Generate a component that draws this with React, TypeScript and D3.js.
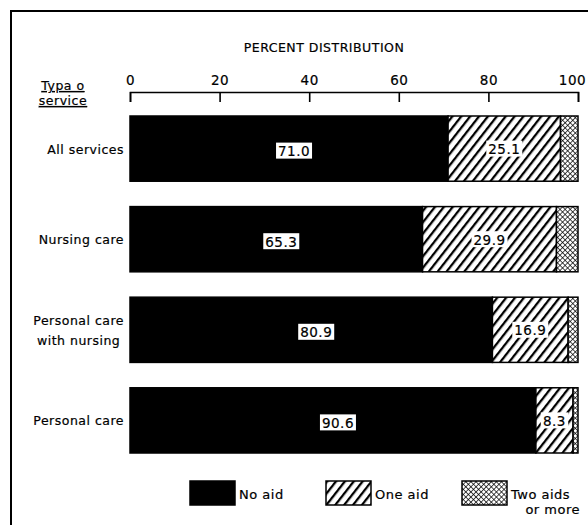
import * as d3 from 'd3';
import React, { useEffect, useRef } from 'react';

// service types, top to bottom
const services = ['All services', 'Nursing care', 'Personal care\nwith nursing', 'Personal care'];
const noAid = [71.0, 65.3, 80.9, 90.6];
const oneAid = [25.1, 29.9, 16.9, 8.3];
const twoAids = [3.9, 4.8, 2.2, 1.1];
const tickValues = [0, 20, 40, 60, 80, 100];
const legendLabels = ['No aid', 'One aid', 'Two aids\nor more'];

const font = '"DejaVu Sans", sans-serif';

// slightly heavier, wider text like the printed original
const ink = (sel: any, size: number) => sel
  .style('font-family', font)
  .style('font-size', `${size}px`)
  .style('letter-spacing', '0.5px')
  .attr('stroke', '#000')
  .attr('stroke-width', 0.2)
  .attr('fill', '#000');

const App = () => {
  const ref = useRef<SVGSVGElement>(null);

  useEffect(() => {
    const svg = d3.select(ref.current);
    svg.selectAll('*').remove();

    const defs = svg.append('defs');
    // single diagonal hatch for "one aid"
    const hatch = defs.append('pattern')
      .attr('id', 'hatch')
      .attr('patternUnits', 'userSpaceOnUse')
      .attr('width', 7).attr('height', 7)
      .attr('patternTransform', 'rotate(38)');
    hatch.append('rect').attr('width', 7).attr('height', 7).attr('fill', '#fff');
    hatch.append('line')
      .attr('x1', 0).attr('y1', 0).attr('x2', 0).attr('y2', 7)
      .attr('stroke', '#000').attr('stroke-width', 4.6);
    // cross hatch for "two aids or more"
    const cross = defs.append('pattern')
      .attr('id', 'cross')
      .attr('patternUnits', 'userSpaceOnUse')
      .attr('width', 3.6).attr('height', 3.6)
      .attr('patternTransform', 'rotate(45)');
    cross.append('rect').attr('width', 3.6).attr('height', 3.6).attr('fill', '#fff');
    cross.append('line').attr('x1', 0).attr('y1', 0).attr('x2', 0).attr('y2', 3.6)
      .attr('stroke', '#000').attr('stroke-width', 1.4);
    cross.append('line').attr('x1', 0).attr('y1', 0).attr('x2', 3.6).attr('y2', 0)
      .attr('stroke', '#000').attr('stroke-width', 1.4);

    // frame
    svg.append('path')
      .attr('d', 'M11,530 V11 H600')
      .attr('fill', 'none').attr('stroke', '#000').attr('stroke-width', 2);

    const x = d3.scaleLinear().domain([0, 100]).range([130, 578]);
    const y = d3.scaleBand<string>().domain(services).range([116, 453]).paddingInner(0.28).paddingOuter(0);

    ink(svg.append('text')
      .attr('x', 324).attr('y', 52)
      .attr('text-anchor', 'middle'), 12.5)
      .text('PERCENT DISTRIBUTION');

    const axis = svg.append('g')
      .attr('transform', 'translate(0,92)')
      .call(d3.axisTop(x).tickValues(tickValues).tickSize(-10).tickPadding(7));
    axis.select('.domain').attr('stroke-width', 1.6);
    axis.selectAll('.tick line').attr('stroke-width', 1.6);
    ink(axis.selectAll('.tick text'), 13.5);
    axis.selectAll('.tick text').filter((d: any) => d === 100).attr('dx', -6);

    // header "Typa o / service" (underlined)
    [['Typa o', 90], ['service', 105]].forEach(([t, yy]) => {
      ink(svg.append('text')
        .attr('x', 63).attr('y', yy as number)
        .attr('text-anchor', 'middle')
        .attr('text-decoration', 'underline'), 12.5)
        .text(t as string);
    });

    // category labels
    services.forEach(s => {
      const lines = s.split('\n');
      const cy = (y(s) ?? 0) + y.bandwidth() / 2;
      let firstW = 0;
      lines.forEach((l, i) => {
        const t = ink(svg.append('text')
          .attr('y', cy + (i - (lines.length - 1) / 2) * 20 + 5), 12.5)
          .text(l);
        if (i === 0) {
          t.attr('x', 124).attr('text-anchor', 'end');
          firstW = (t.node() as SVGTextElement).getComputedTextLength();
        } else {
          t.attr('x', 124 - firstW / 2).attr('text-anchor', 'middle');
        }
      });
    });

    // stacked segments
    const rows = services.map((s, i) => ({ s, vals: [noAid[i], oneAid[i], twoAids[i]] }));
    const fills = ['#000', 'url(#hatch)', 'url(#cross)'];
    rows.forEach(r => {
      let acc = 0;
      const g = svg.append('g');
      r.vals.forEach((v, j) => {
        g.append('rect')
          .attr('x', x(acc))
          .attr('y', y(r.s) ?? 0)
          .attr('width', x(acc + v) - x(acc))
          .attr('height', y.bandwidth())
          .attr('fill', fills[j])
          .attr('stroke', '#000').attr('stroke-width', 1.5);
        if (j < 2) {
          const cx = (x(acc) + x(acc + v)) / 2 + (j === 0 ? 5 : 0);
          const cy = (y(r.s) ?? 0) + y.bandwidth() / 2 + (j === 0 ? 2 : 0);
          const label = v.toFixed(1);
          const w = label.length * 8.5 + 2;
          g.append('rect')
            .attr('x', cx - w / 2).attr('y', cy - 8)
            .attr('width', w).attr('height', 16)
            .attr('fill', '#fff');
          ink(g.append('text')
            .attr('x', cx).attr('y', cy + 5.5)
            .attr('text-anchor', 'middle'), 13.5)
            .text(label);
        }
        acc += v;
      });
    });

    // legend
    const legX = [190, 326, 462];
    legendLabels.forEach((l, i) => {
      svg.append('rect')
        .attr('x', legX[i]).attr('y', 481)
        .attr('width', 45).attr('height', 24)
        .attr('fill', fills[i])
        .attr('stroke', '#000').attr('stroke-width', 1.5);
      const lines = l.split('\n');
      lines.forEach((t, k) => {
        ink(svg.append('text')
          .attr('x', k === 0 ? legX[i] + 49 : 580)
          .attr('y', 499 + k * 15)
          .attr('text-anchor', k === 0 ? 'start' : 'end'), 13)
          .text(t);
      });
    });
  }, []);

  return (
    <svg ref={ref} width={588} height={525} style={{ position: 'absolute', left: 0, top: 0, background: '#fff' }} />
  );
};

export default App;
